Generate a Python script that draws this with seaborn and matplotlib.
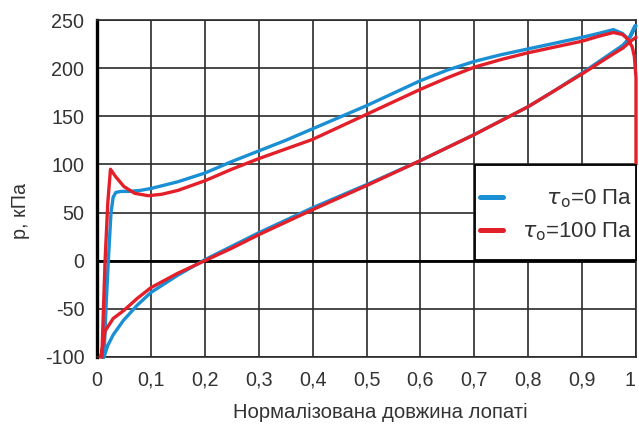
import numpy as np
import pandas as pd
import matplotlib
matplotlib.use("Agg")
import matplotlib.pyplot as plt
import seaborn as sns
from matplotlib.patches import Rectangle

# Pressure distribution along the blade, two yield-stress cases
blue_upper_x = [0.010, 0.013, 0.017, 0.021, 0.026, 0.030, 0.035, 0.045, 0.06, 0.08, 0.10, 0.15, 0.20,
                0.25, 0.30, 0.35, 0.40, 0.45, 0.50, 0.55, 0.60, 0.65, 0.70, 0.75, 0.80, 0.85, 0.90,
                0.93, 0.958, 0.975, 0.986, 0.998]
blue_upper_p = [-100, -100, -45, 0, 50, 66, 71, 72, 72, 73, 75, 82, 91,
                103, 114, 125, 137, 149, 161, 174, 187, 198, 207, 214, 220, 226, 232,
                236, 240, 236, 230, 244]
blue_lower_x = [0.010, 0.013, 0.02, 0.03, 0.049, 0.075, 0.10, 0.15, 0.20, 0.25, 0.30, 0.40, 0.50,
                0.60, 0.70, 0.80, 0.85, 0.90, 0.95, 0.976, 0.99, 1.0]
blue_lower_p = [-100, -100, -88, -77, -62, -46, -33, -15, 1, 15, 29, 55, 79,
                104, 131, 160, 177, 195, 214, 224, 233, 244]

red_upper_x = [0.006, 0.009, 0.015, 0.020, 0.025, 0.035, 0.05, 0.07, 0.095, 0.12, 0.15, 0.20, 0.25,
               0.30, 0.40, 0.50, 0.60, 0.65, 0.70, 0.75, 0.80, 0.85, 0.90, 0.93, 0.958, 0.975,
               0.985, 0.993, 0.997, 1.0, 1.0]
red_upper_p = [-100, -100, 0, 60, 95, 87, 77, 70, 67.5, 69, 73, 83, 95,
               106, 126, 152, 178, 190, 201, 209, 216, 222, 228, 233, 237, 235,
               230, 222, 212, 190, 100]
red_lower_x = [0.006, 0.009, 0.015, 0.03, 0.049, 0.075, 0.10, 0.15, 0.20, 0.25, 0.30, 0.40, 0.50,
               0.60, 0.70, 0.80, 0.85, 0.90, 0.95, 0.976, 0.99, 1.0]
red_lower_p = [-100, -95, -73, -60, -52, -39, -28, -13, 0, 13, 27, 53, 78,
               104, 131, 160, 177, 194, 212, 221, 228, 232]

labels = ["    $\\tau_{\\mathrm{o}}$=0 Па", "$\\tau_{\\mathrm{o}}$=100 Па"]
colors = ["#1a8fd3", "#e3202a"]

x_ticks = [0, 0.1, 0.2, 0.3, 0.4, 0.5, 0.6, 0.7, 0.8, 0.9, 1.0]
x_ticklabels = ["0", "0,1", "0,2", "0,3", "0,4", "0,5", "0,6", "0,7", "0,8", "0,9", "1"]
y_ticks = [-100, -50, 0, 50, 100, 150, 200, 250]


def loop(lower_x, lower_p, upper_x, upper_p, label):
    # trailing edge -> leading edge along the lower side, then back along the upper side
    xs = list(reversed(lower_x)) + list(upper_x)
    ps = list(reversed(lower_p)) + list(upper_p)
    return pd.DataFrame({"x": xs, "p": ps, "case": label})


df = pd.concat([
    loop(blue_lower_x, blue_lower_p, blue_upper_x, blue_upper_p, labels[0]),
    loop(red_lower_x, red_lower_p, red_upper_x, red_upper_p, labels[1]),
], ignore_index=True)

sns.set_style("white")
plt.rcParams["font.family"] = ["Liberation Sans", "DejaVu Sans"]
plt.rcParams["mathtext.fontset"] = "dejavusans"
plt.rcParams["axes.unicode_minus"] = False

fig = plt.figure(figsize=(6.39, 4.25), dpi=100)
ax = fig.add_axes([97 / 639, 68 / 425, 539 / 639, 337 / 425])

sns.lineplot(data=df, x="x", y="p", hue="case", palette=colors, sort=False,
             estimator=None, linewidth=2.4, ax=ax, legend=False, zorder=3)
for line in ax.get_lines():
    line.set_clip_on(False)

ax.set_xlim(0, 1)
ax.set_ylim(-100, 250)
ax.set_xticks(x_ticks)
ax.set_xticklabels(x_ticklabels)
ax.set_yticks(y_ticks)
ax.grid(True, color="#2a2a2a", linewidth=1.2)
ax.set_axisbelow(True)
ax.axhline(0, color="black", linewidth=2.0, zorder=1)
ax.tick_params(axis="both", length=0, labelsize=14.2, colors="#333333")
ax.tick_params(axis="x", pad=10)
ax.tick_params(axis="y", pad=9)
ax.get_xticklabels()[-1].set_horizontalalignment("right")
for name, sp in ax.spines.items():
    sp.set_color("#2a2a2a")
    sp.set_linewidth(1.2)
ax.spines["left"].set_color("black")
ax.spines["left"].set_linewidth(2.4)

ax.set_xlabel("Нормалізована довжина лопаті", fontsize=14.6, color="#333333")
ax.set_ylabel("р, кПа", fontsize=14.2, color="#333333")
ax.xaxis.set_label_coords(0.525, -0.135)
ax.yaxis.set_label_coords(-0.125, 0.433)

# legend box
ax.add_patch(Rectangle((0.701, 0.288), 0.299, 0.282, transform=ax.transAxes,
                       facecolor="white", edgecolor="black", linewidth=1.3, zorder=4, clip_on=False))
handles = [plt.Line2D([], [], color=c, linewidth=3.6) for c in colors]
ax.legend(handles, labels, loc="upper left", bbox_to_anchor=(0.7106, 0.503),
          frameon=False, fontsize=16, handlelength=1.04, handletextpad=0.85,
          labelspacing=0.48, borderpad=0, borderaxespad=0, labelcolor="#333333")

fig.savefig("out.png", dpi=100)
